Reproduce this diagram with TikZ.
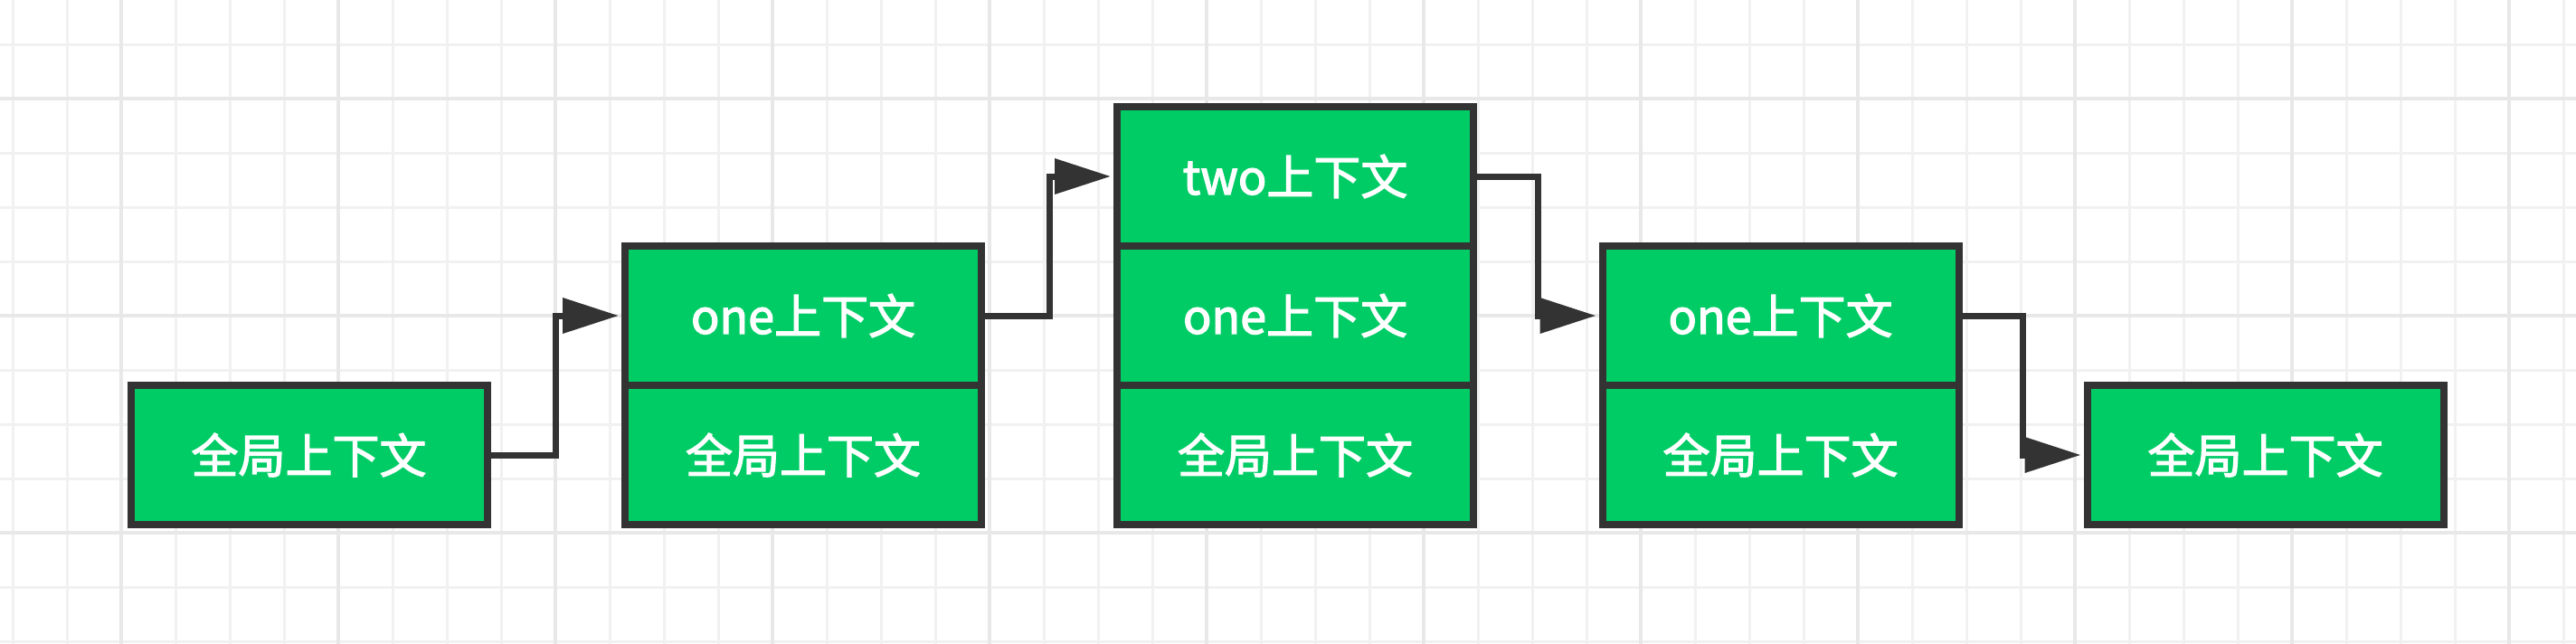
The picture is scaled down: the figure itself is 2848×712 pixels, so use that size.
\documentclass[tikz,border=0pt]{standalone}
\usepackage{fontspec}
\setmainfont{Noto Sans CJK SC}
\newfontfamily\cellfont[FakeBold=2.4]{Noto Sans CJK SC}
\usetikzlibrary{arrows.meta,calc}
\definecolor{boxgreen}{HTML}{00CC66}
\definecolor{edge}{HTML}{333333}
\definecolor{gridminor}{HTML}{F1F1F1}
\definecolor{gridmajor}{HTML}{E8E8E8}
\tikzset{
  cell/.style={draw=edge, line width=8pt, fill=boxgreen, minimum width=394pt,
    minimum height=154pt, inner sep=0pt, text=white,
    font=\cellfont\fontsize{52pt}{60pt}\selectfont},
  conn/.style={draw=edge, line width=7pt, line join=miter,
    -{Triangle[length=62pt,width=38pt]}, shorten >=3pt},
}
\begin{document}
\begin{tikzpicture}[x=1pt,y=-1pt]
\useasboundingbox (0,0) rectangle (2848,712);
\fill[white] (0,0) rectangle (2848,712);
% grid
\foreach \gx in {14,74,...,2848} \draw[gridminor, line width=3pt] (\gx,0) -- (\gx,712);
\foreach \gy in {49,109,...,712} \draw[gridminor, line width=3pt] (0,\gy) -- (2848,\gy);
\foreach \gx in {134,374,...,2848} \draw[gridmajor, line width=4pt] (\gx,0) -- (\gx,712);
\foreach \gy in {109,349,589} \draw[gridmajor, line width=4pt] (0,\gy) -- (2848,\gy);
% boxes
\node[cell] (a1) at (341.5,503) {全局上下文};
\node[cell] (b1) at (888,503) {全局上下文};
\node[cell] (b2) at (888,349) {one上下文};
\node[cell] (c1) at (1432,503) {全局上下文};
\node[cell] (c2) at (1432,349) {one上下文};
\node[cell] (c3) at (1432,195) {two上下文};
\node[cell] (d1) at (1968.5,503) {全局上下文};
\node[cell] (d2) at (1968.5,349) {one上下文};
\node[cell] (e1) at (2504.5,503) {全局上下文};
% connectors
\draw[conn] (a1.east) -| ($(a1.east)!0.5!(b2.west)$) |- (b2.west);
\draw[conn] (b2.east) -| ($(b2.east)!0.5!(c3.west)$) |- (c3.west);
\draw[conn] (c3.east) -| ($(c3.east)!0.5!(d2.west)$) |- (d2.west);
\draw[conn] (d2.east) -| ($(d2.east)!0.5!(e1.west)$) |- (e1.west);
\end{tikzpicture}
\end{document}
